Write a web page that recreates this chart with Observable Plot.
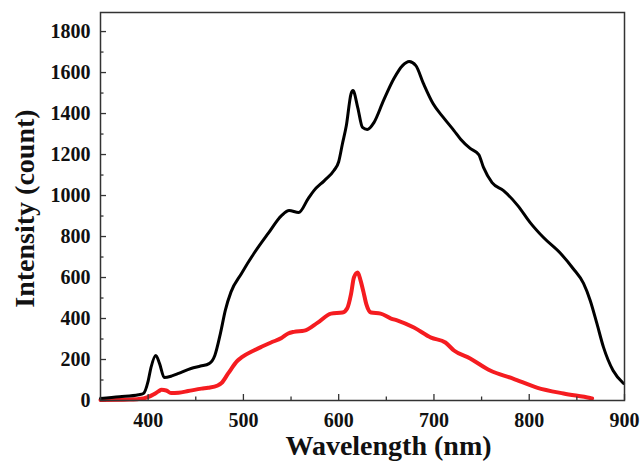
<!DOCTYPE html>
<html>
<head>
<meta charset="utf-8">
<script src="https://cdn.jsdelivr.net/npm/d3@7"></script>
<script src="https://cdn.jsdelivr.net/npm/@observablehq/plot@0.6"></script>
<style>
  html, body { margin: 0; padding: 0; background: #fff; }
  #chart svg { display: block; }
</style>
</head>
<body>
<div id="chart"></div>
<script>
// Black spectrum
const blackWavelength = [350,370,390,395,400,403,408,412,417,425,432,445,455,464,470,476,481,487,498,511,526,540,548,558,568,574,585,595,600,604,608,613,615,620,625,630,637,647,658,667,674,681,689,699,710,721,728,738,747,752,761,773,788,801,815,833,846,857,864,871,878,888,899];
const blackIntensity  = [10,18,28,34,95,161,220,180,112,120,132,156,168,180,220,330,440,530,620,717,815,902,927,917,985,1024,1073,1122,1165,1254,1340,1497,1512,1429,1332,1322,1356,1463,1571,1634,1654,1634,1546,1449,1380,1317,1275,1230,1200,1137,1063,1024,951,868,795,717,644,571,488,376,259,146,83];
// Red spectrum
const redWavelength = [350,380,395,406,411,414,419,424,432,442,456,463,473,477,484,494,498,511,519,529,540,547,553,564,578,592,604,609,613,616,620,623,626,629,634,644,655,662,679,697,712,721,738,759,783,808,836,864,866];
const redIntensity  = [3,5,10,30,45,52,49,36,38,46,58,62,73,85,132,195,210,244,262,283,305,327,335,341,380,424,429,450,520,600,624,585,530,470,429,424,400,390,356,307,283,244,205,146,107,63,34,12,10];

const xMajor = [400,500,600,700,800,900];
const xMinor = [350,450,550,650,750,850];
const yMajor = [0,200,400,600,800,1000,1200,1400,1600,1800];
const yMinor = [100,300,500,700,900,1100,1300,1500,1700];

const xTitle = "Wavelength (nm)";
const yTitle = "Intensity (count)";

const black = blackWavelength.map((w, i) => ({w, v: blackIntensity[i]}));
const red = redWavelength.map((w, i) => ({w, v: redIntensity[i]}));

const font = "'Liberation Serif', 'Times New Roman', serif";

const plot = Plot.plot({
  width: 642,
  height: 461,
  marginLeft: 100,
  marginRight: 18,
  marginTop: 12,
  marginBottom: 61,
  style: {fontFamily: font, fontWeight: "bold", fontSize: "20px", color: "#111", background: "#fff"},
  x: {domain: [350, 900]},
  y: {domain: [0, 1893]},
  marks: [
    Plot.line(red, {x: "w", y: "v", stroke: "#f51c20", strokeWidth: 4, curve: "monotone-x"}),
    Plot.line(black, {x: "w", y: "v", stroke: "#000", strokeWidth: 3, curve: "monotone-x"}),
    Plot.frame({stroke: "#333", strokeWidth: 1.5}),
    Plot.axisX({ticks: xMajor, tickSize: -6, tickFormat: () => "", label: null, stroke: "#333", strokeWidth: 1.3}),
    Plot.axisX({ticks: xMinor, tickSize: -3.5, tickFormat: () => "", label: null, stroke: "#333", strokeWidth: 1.3}),
    Plot.axisX({ticks: xMajor, tickSize: 0, tickPadding: 12, tickFormat: d => String(d), label: null, fontSize: 20, fontWeight: "bold"}),
    Plot.axisY({ticks: yMajor, tickSize: -6, tickFormat: () => "", label: null, stroke: "#333", strokeWidth: 1.3}),
    Plot.axisY({ticks: yMinor, tickSize: -3.5, tickFormat: () => "", label: null, stroke: "#333", strokeWidth: 1.3}),
    Plot.axisY({ticks: yMajor, tickSize: 0, tickPadding: 10, tickFormat: d => String(d), label: null, fontSize: 20, fontWeight: "bold"}),
    Plot.text([xTitle], {frameAnchor: "bottom", text: d => d, dy: 54, dx: 26, textAnchor: "middle", lineAnchor: "bottom", fontSize: 28, fontWeight: "bold", fill: "#111"}),
    Plot.text([yTitle], {frameAnchor: "left", text: d => d, dx: -67, dy: 2, rotate: -90, textAnchor: "middle", lineAnchor: "bottom", fontSize: 28, fontWeight: "bold", fill: "#111"})
  ]
});
document.getElementById("chart").appendChild(plot);
</script>
</body>
</html>
